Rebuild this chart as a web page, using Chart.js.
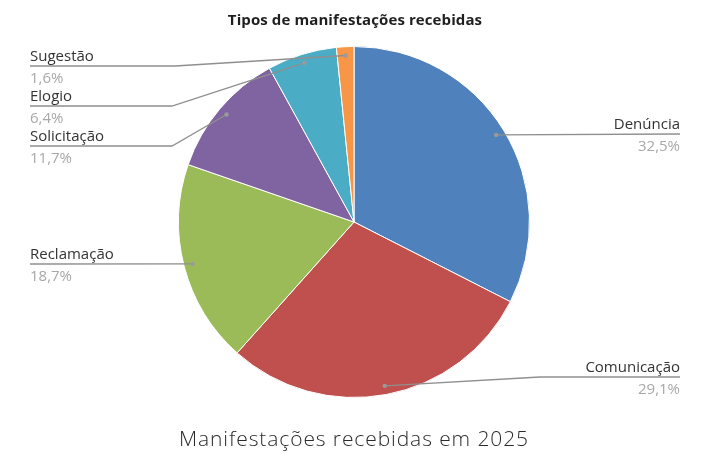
<!DOCTYPE html>
<html lang="pt-BR">
<head>
<meta charset="utf-8">
<title>Tipos de manifestações recebidas</title>
<script src="https://cdn.jsdelivr.net/npm/chart.js@4.4.1/dist/chart.umd.min.js"></script>
<style>
  html, body { margin: 0; padding: 0; background: #ffffff; }
  .wrap { position: relative; width: 703px; height: 454px; overflow: hidden; }
  #pieChart { position: absolute; left: 0; top: 0; }
  .title {
    position: absolute; left: 0; top: 9px; width: 710px; text-align: center;
    font: bold 15px "Open Sans", sans-serif; color: #1f1f1f; letter-spacing: 0.1px;
  }
  .caption {
    position: absolute; left: 0; top: 424px; width: 708px; text-align: center;
    font: 300 21px "Open Sans", sans-serif; color: #2b2b2b; letter-spacing: 0.9px;
  }
</style>
</head>
<body>
<div class="wrap">
  <canvas id="pieChart" width="703" height="454"></canvas>
  <div class="title">Tipos de manifestações recebidas</div>
  <div class="caption">Manifestações recebidas em 2025</div>
</div>
<script>
  // --- data ---
  const categories = ["Denúncia", "Comunicação", "Reclamação", "Solicitação", "Elogio", "Sugestão"];
  const percentages = [32.5, 29.1, 18.7, 11.7, 6.4, 1.6];
  const sliceColors = ["#4F81BD", "#C0504D", "#9BBB59", "#8064A2", "#4BACC6", "#F79646"];

  // label placement (outside the pie, with leader lines)
  const labelLayout = [
    { side: "right", lineY: 134, elbowX: null },
    { side: "right", lineY: 377, elbowX: 540 },
    { side: "left",  lineY: 264, elbowX: null },
    { side: "left",  lineY: 146, elbowX: 172 },
    { side: "left",  lineY: 106, elbowX: 172 },
    { side: "left",  lineY: 66,  elbowX: 175 }
  ];
  const LEFT_X = 30;
  const RIGHT_X = 680;

  const fmtPct = (v) => v.toFixed(1).replace(".", ",") + "%";

  const leaderLabels = {
    id: "leaderLabels",
    afterDatasetsDraw(chart) {
      const ctx = chart.ctx;
      const arcs = chart.getDatasetMeta(0).data;
      ctx.save();
      arcs.forEach((arc, i) => {
        const p = arc.getProps(["x", "y", "startAngle", "endAngle", "outerRadius"], true);
        const mid = (p.startAngle + p.endAngle) / 2;
        const dx = p.x + Math.cos(mid) * p.outerRadius * 0.95;
        const dy = p.y + Math.sin(mid) * p.outerRadius * 0.95;
        const lay = labelLayout[i];

        // leader line
        ctx.strokeStyle = "#8f8f8f";
        ctx.lineWidth = 1.3;
        ctx.beginPath();
        ctx.moveTo(dx, dy);
        if (lay.elbowX !== null) ctx.lineTo(lay.elbowX, lay.lineY);
        ctx.lineTo(lay.side === "left" ? LEFT_X : RIGHT_X, lay.lineY);
        ctx.stroke();

        // dot
        ctx.fillStyle = "#9a9a9a";
        ctx.beginPath();
        ctx.arc(dx, dy, 2.2, 0, Math.PI * 2);
        ctx.fill();

        // texts
        const tx = lay.side === "left" ? LEFT_X : RIGHT_X;
        ctx.textAlign = lay.side === "left" ? "left" : "right";
        ctx.textBaseline = "alphabetic";
        ctx.font = '15px "Open Sans", sans-serif';
        ctx.fillStyle = "#333333";
        ctx.fillText(categories[i], tx, lay.lineY - 5);
        ctx.fillStyle = "#a8a8a8";
        ctx.fillText(fmtPct(percentages[i]), tx, lay.lineY + 17);
      });
      ctx.restore();
    }
  };

  document.addEventListener("DOMContentLoaded", () => {
    new Chart(document.getElementById("pieChart"), {
      type: "pie",
      data: {
        labels: categories,
        datasets: [{
          data: percentages,
          backgroundColor: sliceColors,
          borderColor: "#ffffff",
          borderWidth: 1,
          hoverOffset: 0
        }]
      },
      options: {
        responsive: false,
        animation: false,
        events: [],
        layout: { padding: { left: 178, right: 173, top: 46, bottom: 56 } },
        plugins: {
          legend: { display: false },
          tooltip: { enabled: false },
          title: { display: false }
        }
      },
      plugins: [leaderLabels]
    });
  });
</script>
</body>
</html>
